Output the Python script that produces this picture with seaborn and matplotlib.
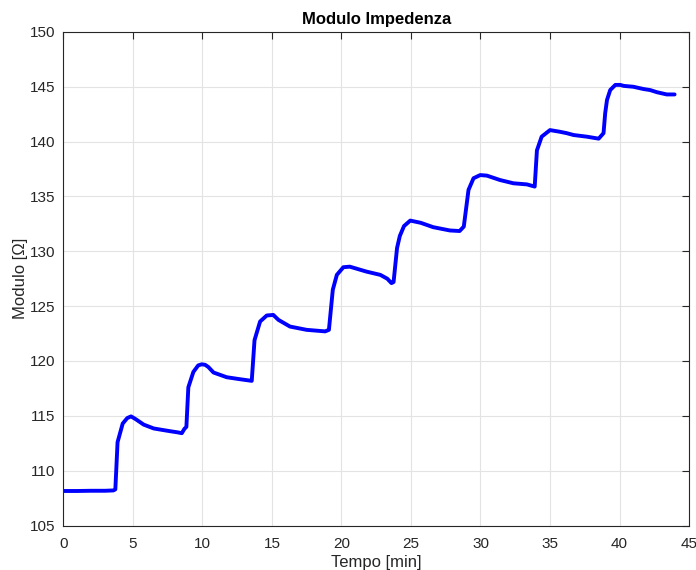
import matplotlib
matplotlib.use("Agg")
import matplotlib.pyplot as plt
import seaborn as sns
import pandas as pd

tempo = [0, 1.0, 2.0, 3.0, 3.6, 3.74, 3.9, 4.27, 4.6, 4.87, 5.2, 5.78, 6.5, 7.2, 7.68,
         8.2, 8.52, 8.7, 8.85, 8.99, 9.35, 9.7, 9.96, 10.2, 10.43, 10.8, 11.75, 12.7,
         13.55, 13.75, 14.15, 14.63, 15.1, 15.47, 16.3, 17.5, 18.83, 19.1, 19.38, 19.67,
         20.14, 20.6, 21.8, 22.8, 23.3, 23.6, 23.75, 24.0, 24.2, 24.5, 24.95, 25.7, 26.6,
         27.8, 28.5, 28.8, 29.14, 29.5, 29.98, 30.46, 31.4, 32.37, 33.34, 33.9, 34.06,
         34.4, 35.0, 35.7, 36.2, 36.7, 37.65, 38.5, 38.85, 38.97, 39.1, 39.33, 39.7,
         40.05, 40.3, 41.0, 41.7, 42.2, 42.7, 43.4, 43.96]
modulo = [108.15, 108.15, 108.17, 108.17, 108.2, 108.3, 112.6, 114.3, 114.8, 114.95,
          114.7, 114.2, 113.85, 113.7, 113.6, 113.5, 113.42, 113.8, 114.0, 117.6, 119.0,
          119.6, 119.7, 119.65, 119.45, 118.95, 118.52, 118.34, 118.19, 121.9, 123.6,
          124.15, 124.2, 123.75, 123.14, 122.84, 122.7, 122.84, 126.5, 127.85, 128.55,
          128.6, 128.15, 127.85, 127.5, 127.1, 127.2, 130.3, 131.4, 132.3, 132.8, 132.6,
          132.2, 131.9, 131.85, 132.25, 135.6, 136.66, 136.95, 136.9, 136.5, 136.2, 136.1,
          135.9, 139.2, 140.45, 141.05, 140.9, 140.77, 140.6, 140.45, 140.27, 140.77,
          142.6, 143.8, 144.7, 145.17, 145.17, 145.08, 145.0, 144.8, 144.7, 144.5, 144.3,
          144.3]

x_ticks = [0, 5, 10, 15, 20, 25, 30, 35, 40, 45]
y_ticks = [105, 110, 115, 120, 125, 130, 135, 140, 145, 150]

sns.set_theme(style="white")
plt.rcParams['font.family'] = ['Liberation Sans', 'DejaVu Sans']

df = pd.DataFrame({"Tempo": tempo, "Modulo": modulo})

fig = plt.figure(figsize=(6.96, 5.70), dpi=100)
ax = fig.add_axes([0.091, 0.078, 0.899, 0.866])
sns.lineplot(data=df, x="Tempo", y="Modulo", color=(0, 0, 1), linewidth=2.8, ax=ax,
             solid_joinstyle="round", solid_capstyle="round")

ax.set_xlim(0, 45)
ax.set_ylim(105, 150)
ax.set_xticks(x_ticks)
ax.set_yticks(y_ticks)
ax.grid(True, color="#e3e3e3", linewidth=0.8)
ax.set_axisbelow(True)
for s in ax.spines.values():
    s.set_visible(True)
    s.set_color("#262626")
    s.set_linewidth(0.8)
ax.tick_params(direction="in", top=True, right=True, length=5, width=0.8,
               colors="#262626", labelsize=11, labelcolor="#262626")
ax.tick_params(axis="x", pad=8)
ax.tick_params(axis="y", pad=6)
ax.set_xlabel("Tempo [min]", fontsize=12, color="#262626", labelpad=3)
ax.set_ylabel("Modulo [Ω]", fontsize=12, color="#262626", labelpad=1)
ax.set_title("Modulo Impedenza", fontsize=12, fontweight="bold", color="black", pad=6)

fig.savefig("out.png", dpi=100)
